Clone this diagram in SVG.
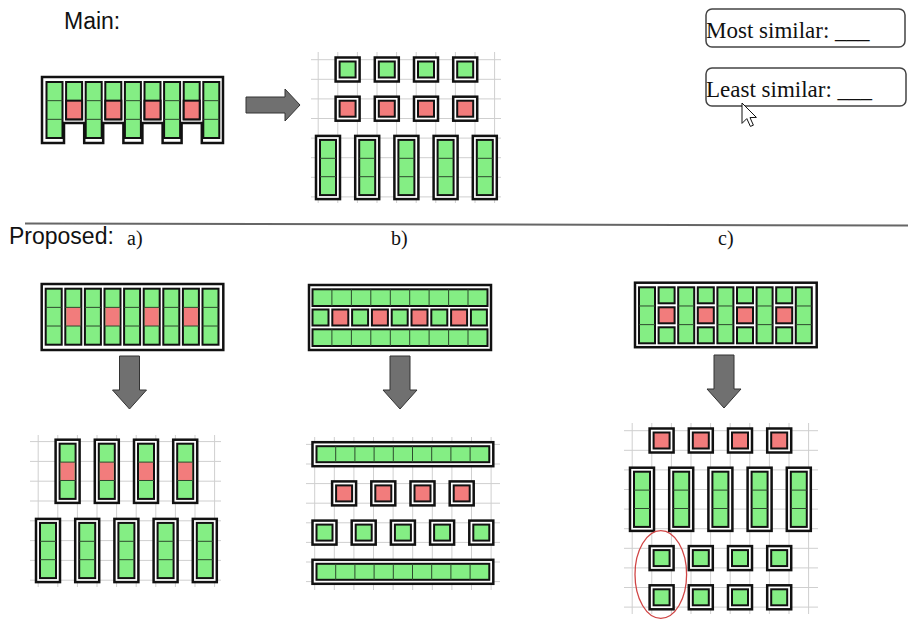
<svg xmlns="http://www.w3.org/2000/svg" xmlns:xlink="http://www.w3.org/1999/xlink" width="908" height="626" viewBox="0 0 908 626">
<style>
.g{fill:#84ee84;stroke:#111;stroke-width:2}
.r{fill:#f27c7c;stroke:#111;stroke-width:2}
.o{fill:#fff;stroke:#111;stroke-width:2.5}
.sep{stroke:#2d4a2d;stroke-width:1;fill:none}
.grid{stroke:#cfcfcf;stroke-width:1;fill:none}
.arrow{fill:#707070;stroke:#333;stroke-width:1}
.sans{font-family:"Liberation Sans",Arial,sans-serif;font-size:23px;fill:#111}
.serif{font-family:"Liberation Serif","Times New Roman",serif;fill:#111}
.box{fill:#fff;stroke:#444;stroke-width:1.5}
</style>
<defs>
<g id="sqG"><rect class="o" x="-12" y="-12" width="24" height="24"/><rect class="g" x="-8" y="-8" width="16" height="16"/></g>
<g id="sqR"><rect class="o" x="-12" y="-12" width="24" height="24"/><rect class="r" x="-8" y="-8" width="16" height="16"/></g>
<g id="tallG"><rect class="o" x="-12" y="-31.6" width="24" height="63.2"/><rect class="g" x="-8" y="-27.6" width="16" height="55.2"/><path class="sep" d="M-8,-9.2H8M-8,9.2H8"/></g>
<g id="tallR"><rect class="o" x="-12" y="-31.6" width="24" height="63.2"/><rect class="g" x="-8" y="-27.6" width="16" height="55.2"/><rect fill="#f27c7c" x="-7" y="-9.2" width="14" height="18.4"/><path class="sep" d="M-8,-9.2H8M-8,9.2H8"/></g>
<g id="bar9"><rect class="o" x="-90.4" y="-12" width="180.8" height="24"/><rect class="g" x="-86.4" y="-8" width="172.8" height="16"/><path class="sep" d="M-67.2,-8V8M-48,-8V8M-28.8,-8V8M-9.6,-8V8M9.6,-8V8M28.8,-8V8M48,-8V8M67.2,-8V8"/></g>
<g id="col3"><rect class="g" x="0" y="0" width="16" height="56"/><path class="sep" d="M0,18.67H16M0,37.33H16"/></g>
<g id="col3r"><rect class="g" x="0" y="0" width="16" height="56"/><rect fill="#f27c7c" x="1" y="18.67" width="14" height="18.67"/><path class="sep" d="M0,18.67H16M0,37.33H16"/></g>
<g id="col2r"><rect class="g" x="0" y="0" width="16" height="37.33"/><rect class="r" x="0" y="18.67" width="16" height="18.67"/></g>
<rect id="cellG" class="g" width="16" height="16"/>
<rect id="cellR" class="r" width="16" height="16"/>
</defs>

<rect width="908" height="626" fill="#fff"/>

<!-- labels -->
<text class="sans" x="64" y="29">Main:</text>
<text class="sans" x="9" y="244">Proposed:</text>
<text class="serif" x="127" y="245" font-size="20">a)</text>
<text class="serif" x="391" y="245" font-size="20">b)</text>
<text class="serif" x="718" y="245" font-size="20">c)</text>
<line x1="25" y1="223.5" x2="908" y2="225.5" stroke="#666" stroke-width="2"/>

<!-- answer boxes -->
<g id="most-similar">
<rect class="box" x="706" y="9" width="199" height="38" rx="6"/>
<text class="serif" x="706" y="37.5" font-size="23">Most similar: ___</text>
</g>
<g id="least-similar">
<rect class="box" x="706" y="68" width="200" height="38" rx="6"/>
<text class="serif" x="706" y="96.7" font-size="23">Least similar: ___</text>
</g>
<polygon id="cursor" points="742,103 742,123.4 746.8,118.6 750.4,126.4 753.4,125.2 750,117.6 756.4,117.4" fill="#fff" stroke="#111" stroke-width="1"/>

<!-- main input -->
<g id="main-input">
<path class="o" d="M42,77H223V143H201.8V123H181.6V143H162.6V123H142.4V143H123.4V123H103.2V143H84.2V123H64V143H42Z"/>
<use href="#col3" x="46.5" y="82"/>
<use href="#col2r" x="66.1" y="82"/>
<use href="#col3" x="85.7" y="82"/>
<use href="#col2r" x="105.3" y="82"/>
<use href="#col3" x="124.9" y="82"/>
<use href="#col2r" x="144.5" y="82"/>
<use href="#col3" x="164.1" y="82"/>
<use href="#col2r" x="183.7" y="82"/>
<use href="#col3" x="203.3" y="82"/>
</g>

<!-- main output -->
<g id="main-output">
<path class="grid" d="M318.2,52V203M337.8,52V203M357.4,52V203M377,52V203M396.6,52V203M416.2,52V203M435.8,52V203M455.4,52V203M475,52V203M494.6,52V203M311,59.7H501M311,79.3H501M311,98.9H501M311,118.5H501M311,138.1H501M311,157.7H501M311,177.3H501M311,196.9H501"/>
<use href="#sqG" x="347.6" y="69.5"/><use href="#sqG" x="386.8" y="69.5"/><use href="#sqG" x="426" y="69.5"/><use href="#sqG" x="465.2" y="69.5"/>
<use href="#sqR" x="347.6" y="108.7"/><use href="#sqR" x="386.8" y="108.7"/><use href="#sqR" x="426" y="108.7"/><use href="#sqR" x="465.2" y="108.7"/>
<use href="#tallG" x="328" y="167.5"/><use href="#tallG" x="367.2" y="167.5"/><use href="#tallG" x="406.4" y="167.5"/><use href="#tallG" x="445.6" y="167.5"/><use href="#tallG" x="484.8" y="167.5"/>
</g>

<!-- proposed a input -->
<g id="a-input">
<rect class="o" x="41.7" y="284" width="181.6" height="66"/>
<use href="#col3" x="45.7" y="288.7"/>
<use href="#col3r" x="65.3" y="288.7"/>
<use href="#col3" x="84.9" y="288.7"/>
<use href="#col3r" x="104.5" y="288.7"/>
<use href="#col3" x="124.1" y="288.7"/>
<use href="#col3r" x="143.7" y="288.7"/>
<use href="#col3" x="163.3" y="288.7"/>
<use href="#col3r" x="182.9" y="288.7"/>
<use href="#col3" x="202.5" y="288.7"/>
</g>

<!-- proposed a output -->
<g id="a-output">
<path class="grid" d="M38.2,435V587M57.8,435V587M77.4,435V587M97,435V587M116.6,435V587M136.2,435V587M155.8,435V587M175.4,435V587M195,435V587M214.6,435V587M30,441.6H221M30,461.4H221M30,481.2H221M30,501H221M30,520.8H221M30,540.6H221M30,560.4H221M30,580.2H221"/>
<use href="#tallR" x="67.6" y="471.3"/><use href="#tallR" x="106.8" y="471.3"/><use href="#tallR" x="146" y="471.3"/><use href="#tallR" x="185.2" y="471.3"/>
<use href="#tallG" x="48" y="550.5"/><use href="#tallG" x="87.2" y="550.5"/><use href="#tallG" x="126.4" y="550.5"/><use href="#tallG" x="165.6" y="550.5"/><use href="#tallG" x="204.8" y="550.5"/>
</g>

<!-- proposed b input -->
<g id="b-input">
<rect class="o" x="309" y="285" width="182" height="65"/>
<rect class="g" x="312.5" y="289.3" width="175" height="16.7"/>
<path class="sep" d="M331.9,289.3V306M351.4,289.3V306M370.8,289.3V306M390.3,289.3V306M409.7,289.3V306M429.1,289.3V306M448.6,289.3V306M468,289.3V306"/>
<use href="#cellG" x="312.5" y="309.5"/><use href="#cellR" x="332.3" y="309.5"/><use href="#cellG" x="352.1" y="309.5"/><use href="#cellR" x="371.9" y="309.5"/><use href="#cellG" x="391.7" y="309.5"/><use href="#cellR" x="411.5" y="309.5"/><use href="#cellG" x="431.3" y="309.5"/><use href="#cellR" x="451.1" y="309.5"/><use href="#cellG" x="470.9" y="309.5"/>
<rect class="g" x="312.5" y="329.3" width="175" height="16.7"/>
<path class="sep" d="M331.9,329.3V346M351.4,329.3V346M370.8,329.3V346M390.3,329.3V346M409.7,329.3V346M429.1,329.3V346M448.6,329.3V346M468,329.3V346"/>
</g>

<!-- proposed b output -->
<g id="b-output">
<path class="grid" d="M314.7,437V590M334.3,437V590M353.9,437V590M373.5,437V590M393.1,437V590M412.7,437V590M432.3,437V590M451.9,437V590M471.5,437V590M491.1,437V590M306,444.4H500M306,464H500M306,483.6H500M306,503.2H500M306,522.8H500M306,542.4H500M306,562H500M306,581.6H500"/>
<use href="#bar9" x="402.9" y="454.2"/>
<use href="#sqR" x="344.1" y="493.4"/><use href="#sqR" x="383.3" y="493.4"/><use href="#sqR" x="422.5" y="493.4"/><use href="#sqR" x="461.7" y="493.4"/>
<use href="#sqG" x="324.5" y="532.6"/><use href="#sqG" x="363.7" y="532.6"/><use href="#sqG" x="402.9" y="532.6"/><use href="#sqG" x="442.1" y="532.6"/><use href="#sqG" x="481.3" y="532.6"/>
<use href="#bar9" x="402.9" y="571.8"/>
</g>

<!-- proposed c input -->
<g id="c-input">
<rect class="o" x="635" y="282.7" width="181.7" height="64.5"/>
<use href="#col3" x="639" y="287.3"/>
<use href="#cellG" x="658.6" y="287.3"/><use href="#cellR" x="658.6" y="307.3"/><use href="#cellG" x="658.6" y="327.3"/>
<use href="#col3" x="678.2" y="287.3"/>
<use href="#cellG" x="697.8" y="287.3"/><use href="#cellR" x="697.8" y="307.3"/><use href="#cellG" x="697.8" y="327.3"/>
<use href="#col3" x="717.4" y="287.3"/>
<use href="#cellG" x="737" y="287.3"/><use href="#cellR" x="737" y="307.3"/><use href="#cellG" x="737" y="327.3"/>
<use href="#col3" x="756.6" y="287.3"/>
<use href="#cellG" x="776.2" y="287.3"/><use href="#cellR" x="776.2" y="307.3"/><use href="#cellG" x="776.2" y="327.3"/>
<use href="#col3" x="795.8" y="287.3"/>
</g>

<!-- proposed c output -->
<g id="c-output">
<path class="grid" d="M632.2,423V614M651.8,423V614M671.4,423V614M691,423V614M710.6,423V614M730.2,423V614M749.8,423V614M769.4,423V614M789,423V614M808.6,423V614M624,430.7H818M624,450.3H818M624,469.9H818M624,489.5H818M624,509.1H818M624,528.7H818M624,548.3H818M624,567.9H818M624,587.5H818M624,607.1H818"/>
<use href="#sqR" x="661.6" y="440.5"/><use href="#sqR" x="700.8" y="440.5"/><use href="#sqR" x="740" y="440.5"/><use href="#sqR" x="779.2" y="440.5"/>
<use href="#tallG" x="642" y="499.3"/><use href="#tallG" x="681.2" y="499.3"/><use href="#tallG" x="720.4" y="499.3"/><use href="#tallG" x="759.6" y="499.3"/><use href="#tallG" x="798.8" y="499.3"/>
<use href="#sqG" x="661.6" y="558.1"/><use href="#sqG" x="700.8" y="558.1"/><use href="#sqG" x="740" y="558.1"/><use href="#sqG" x="779.2" y="558.1"/>
<use href="#sqG" x="661.6" y="597.3"/><use href="#sqG" x="700.8" y="597.3"/><use href="#sqG" x="740" y="597.3"/><use href="#sqG" x="779.2" y="597.3"/>
<ellipse cx="660.8" cy="574.5" rx="25.8" ry="43.8" fill="none" stroke="#d04545" stroke-width="1.3"/>
</g>

<!-- connectors -->
<g id="connectors">
<polygon class="arrow" points="246,97 285,97 285,89 300,105 285,121 285,113 246,113"/>
<polygon class="arrow" points="119.5,356 139.5,356 139.5,390 146.5,390 129.5,409 112.5,390 119.5,390"/>
<polygon class="arrow" points="390,356 410,356 410,390 417,390 400,409 383,390 390,390"/>
<polygon class="arrow" points="714,355 734,355 734,389 741,389 724,408 707,389 714,389"/>
</g>
</svg>
